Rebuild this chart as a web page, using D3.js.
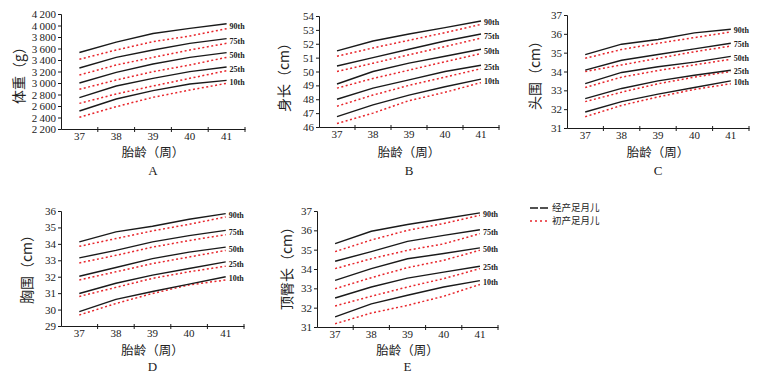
<!DOCTYPE html>
<html><head><meta charset="utf-8">
<script src="https://cdn.jsdelivr.net/npm/d3@7"></script>
<style>
html,body{margin:0;padding:0;background:#fff;}
svg{display:block;}
</style></head>
<body>
<svg id="chart" width="778" height="378"></svg>
<script>
// ---------- DATA ----------
const weeks = [37, 38, 39, 40, 41];
const percentiles = ["90th", "75th", "50th", "25th", "10th"];
const legendLabels = ["经产足月儿", "初产足月儿"];

// A: 体重 (g)  rows = 90th,75th,50th,25th,10th
const weightTicks = [2200, 2400, 2600, 2800, 3000, 3200, 3400, 3600, 3800, 4000, 4200];
const weightMulti = [
  [3530, 3710, 3860, 3950, 4030],
  [3261, 3446, 3574, 3690, 3771],
  [3000, 3186, 3330, 3446, 3528],
  [2745, 2948, 3081, 3197, 3278],
  [2513, 2722, 2867, 2983, 3046]
];
const weightPrimi = [
  [3412, 3574, 3719, 3817, 3945],
  [3139, 3313, 3446, 3574, 3690],
  [2890, 3052, 3197, 3313, 3446],
  [2646, 2809, 2948, 3081, 3214],
  [2403, 2588, 2751, 2878, 2994]
];

// B: 身长 (cm)
const lengthTicks = [46, 47, 48, 49, 50, 51, 52, 53, 54];
const lengthMulti = [
  [51.49, 52.2, 52.7, 53.16, 53.64],
  [50.4, 51.0, 51.6, 52.2, 52.7],
  [49.1, 50.0, 50.6, 51.1, 51.6],
  [48.0, 48.8, 49.4, 50.0, 50.45],
  [46.75, 47.6, 48.3, 48.9, 49.45]
];
const lengthPrimi = [
  [51.1, 51.7, 52.25, 52.8, 53.4],
  [50.0, 50.6, 51.2, 51.8, 52.4],
  [48.8, 49.5, 50.1, 50.7, 51.3],
  [47.5, 48.3, 49.0, 49.6, 50.2],
  [46.25, 47.0, 47.9, 48.5, 49.2]
];

// C: 头围 (cm)
const headTicks = [31, 32, 33, 34, 35, 36, 37];
const headMulti = [
  [34.9, 35.45, 35.7, 36.05, 36.24],
  [34.07, 34.6, 34.9, 35.2, 35.5],
  [33.36, 33.95, 34.25, 34.5, 34.8],
  [32.56, 33.1, 33.5, 33.8, 34.07],
  [31.85, 32.4, 32.8, 33.15, 33.5]
];
const headPrimi = [
  [34.7, 35.17, 35.5, 35.8, 36.1],
  [34.0, 34.35, 34.7, 35.05, 35.35],
  [33.15, 33.7, 34.05, 34.35, 34.65],
  [32.4, 32.9, 33.35, 33.7, 34.0],
  [31.6, 32.2, 32.65, 33.05, 33.35]
];

// D: 胸围 (cm)
const chestTicks = [29, 30, 31, 32, 33, 34, 35, 36];
const chestMulti = [
  [34.12, 34.73, 35.07, 35.5, 35.84],
  [33.15, 33.6, 34.12, 34.5, 34.82],
  [32.03, 32.56, 33.1, 33.5, 33.8],
  [30.98, 31.6, 32.1, 32.5, 32.9],
  [29.87, 30.62, 31.1, 31.55, 32.0]
];
const chestPrimi = [
  [33.85, 34.32, 34.79, 35.19, 35.64],
  [32.84, 33.3, 33.8, 34.2, 34.56],
  [31.8, 32.3, 32.8, 33.2, 33.6],
  [30.8, 31.35, 31.9, 32.3, 32.64],
  [29.67, 30.37, 30.98, 31.5, 31.8]
];

// E: 顶臀长 (cm)
const crownTicks = [31, 32, 33, 34, 35, 36, 37];
const crownMulti = [
  [35.31, 35.95, 36.3, 36.6, 36.9],
  [34.4, 34.9, 35.43, 35.74, 36.03],
  [33.41, 34.02, 34.53, 34.8, 35.09],
  [32.5, 33.07, 33.53, 33.84, 34.14],
  [31.52, 32.2, 32.64, 33.07, 33.4]
];
const crownPrimi = [
  [34.9, 35.5, 36.0, 36.35, 36.78],
  [34.02, 34.53, 34.97, 35.3, 35.83],
  [32.98, 33.55, 34.07, 34.45, 34.97],
  [32.09, 32.59, 33.07, 33.5, 34.02],
  [31.17, 31.72, 32.12, 32.59, 33.2]
];

// ---------- LAYOUT ----------
const SERIF = "'Liberation Serif','Times New Roman',serif";
const CJK = "'Noto Sans CJK SC','Noto Sans',sans-serif";
const BLACK = "#1a1a1a";
const RED = "#e8262c";

const panels = [
  {letter:"A", yTitle:"体重（g）", multi:weightMulti, primi:weightPrimi, ticks:weightTicks,
   x0:61, x1:245, yTop:14, yBot:129, titleX:20, titleY:72, row:0,
   fmt: d => d3.format(",")(d).replace(",", "\u2009")},
  {letter:"B", yTitle:"身长（cm）", multi:lengthMulti, primi:lengthPrimi, ticks:lengthTicks,
   x0:319, x1:499, yTop:16, yBot:127, titleX:285, titleY:74, row:0, fmt: d3.format("d")},
  {letter:"C", yTitle:"头围（cm）", multi:headMulti, primi:headPrimi, ticks:headTicks,
   x0:567, x1:749, yTop:15, yBot:128, titleX:536, titleY:72, row:0, fmt: d3.format("d")},
  {letter:"D", yTitle:"胸围（cm）", multi:chestMulti, primi:chestPrimi, ticks:chestTicks,
   x0:61, x1:244, yTop:211, yBot:326, titleX:28, titleY:266, row:1, fmt: d3.format("d")},
  {letter:"E", yTitle:"顶臀长（cm）", multi:crownMulti, primi:crownPrimi, ticks:crownTicks,
   x0:317, x1:498, yTop:211, yBot:327, titleX:288, titleY:265, row:1, fmt: d3.format("d")}
];

const svg = d3.select("#chart");

panels.forEach(p => {
  const g = svg.append("g");
  const x = d3.scaleBand().domain(weeks).range([p.x0, p.x1]).padding(0);
  const y = d3.scaleLinear().domain(d3.extent(p.ticks)).range([p.yBot, p.yTop]);
  const cx = d => x(d) + x.bandwidth() / 2;

  // y axis
  const ya = g.append("g").attr("transform", `translate(${p.x0},0)`)
    .call(d3.axisLeft(y).tickValues(p.ticks).tickSize(3).tickPadding(2).tickFormat(p.fmt));
  ya.select(".domain").attr("stroke", BLACK).attr("stroke-width", 1);
  ya.selectAll(".tick line").attr("stroke", BLACK);
  ya.selectAll("text").attr("font-family", SERIF).attr("font-size", 11).attr("fill", "#222");

  // x axis
  const xa = g.append("g").attr("transform", `translate(0,${p.yBot})`)
    .call(d3.axisBottom(x).tickSize(0).tickPadding(3));
  xa.select(".domain").attr("stroke", BLACK).attr("stroke-width", 1);
  xa.selectAll("text").attr("font-family", SERIF).attr("font-size", 11).attr("fill", "#222");
  // boundary tick marks between bands
  xa.selectAll(".bt").data(weeks).enter().append("line").attr("class", "bt")
    .attr("x1", d => x(d) + x.bandwidth()).attr("x2", d => x(d) + x.bandwidth())
    .attr("y1", -2).attr("y2", 3).attr("stroke", BLACK);

  const line = d3.line().x((d, i) => cx(weeks[i])).y(d => y(d));

  // primiparous (red dotted)
  g.selectAll(".pr").data(p.primi).enter().append("path")
    .attr("d", line).attr("fill", "none").attr("stroke", RED)
    .attr("stroke-width", 1.5).attr("stroke-dasharray", "2,2.5");
  // multiparous (black solid)
  g.selectAll(".mu").data(p.multi).enter().append("path")
    .attr("d", line).attr("fill", "none").attr("stroke", BLACK)
    .attr("stroke-width", 1.4);

  // percentile labels
  const last = weeks.length - 1;
  g.selectAll(".pl").data(percentiles).enter().append("text")
    .attr("x", cx(weeks[last]) + 3)
    .attr("y", (d, i) => (y(p.multi[i][last]) + y(p.primi[i][last])) / 2 + 1)
    .attr("dominant-baseline", "middle")
    .attr("font-family", SERIF).attr("font-weight", "bold").attr("font-size", 8)
    .attr("fill", "#222").text(d => d);

  // axis titles
  const xMid = (p.x0 + p.x1) / 2;
  const rowY = p.row === 0 ? [154, 172] : [352, 368];
  g.append("text").attr("x", xMid).attr("y", rowY[0]).attr("text-anchor", "middle")
    .attr("dominant-baseline", "middle").attr("font-family", CJK).attr("font-size", 12.5)
    .attr("fill", "#222").text("胎龄（周）");
  g.append("text").attr("x", xMid).attr("y", rowY[1]).attr("text-anchor", "middle")
    .attr("dominant-baseline", "middle").attr("font-family", SERIF).attr("font-size", 13)
    .attr("fill", "#222").text(p.letter);
  g.append("text").attr("transform", `translate(${p.titleX},${p.titleY}) rotate(-90)`)
    .attr("text-anchor", "middle").attr("dominant-baseline", "middle")
    .attr("font-family", CJK).attr("font-size", 14).attr("fill", "#222").text(p.yTitle);
});

// legend
const lg = svg.append("g");
const legendY = [208, 221];
lg.selectAll(".ll").data(legendLabels).enter().append("line")
  .attr("x1", 530).attr("x2", 549).attr("y1", (d, i) => legendY[i]).attr("y2", (d, i) => legendY[i])
  .attr("stroke", (d, i) => i === 0 ? BLACK : RED).attr("stroke-width", 1.5)
  .attr("stroke-dasharray", (d, i) => i === 0 ? "8,2" : "2,3");
lg.selectAll(".lt").data(legendLabels).enter().append("text")
  .attr("x", 552).attr("y", (d, i) => legendY[i]).attr("dominant-baseline", "middle")
  .attr("font-family", CJK).attr("font-size", 9.5).attr("fill", "#222").text(d => d);
</script>
</body></html>
